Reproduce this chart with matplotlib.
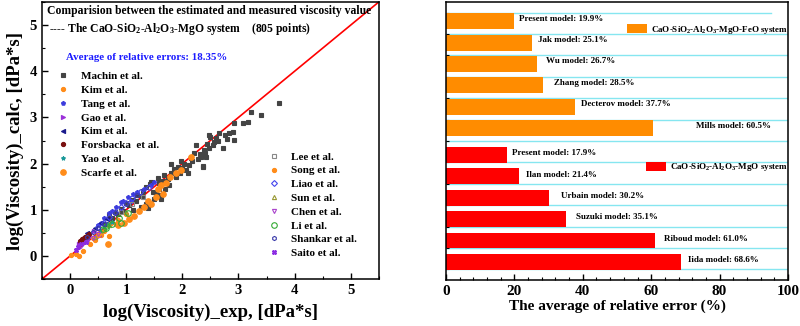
import matplotlib
matplotlib.use("Agg")
import matplotlib.pyplot as plt
import numpy as np

plt.rcParams['font.family'] = ['Liberation Serif', 'DejaVu Serif']
plt.rcParams['font.weight'] = 'bold'
plt.rcParams['mathtext.fontset'] = 'custom'
plt.rcParams['mathtext.rm'] = 'Liberation Serif:bold'
plt.rcParams['mathtext.it'] = 'Liberation Serif:bold'
plt.rcParams['mathtext.bf'] = 'Liberation Serif:bold'

# ---- left panel data: log(viscosity) exp vs calc ----
machin_x = [0.62, 0.75, 0.85, 0.95, 1.05, 1.12, 1.17, 1.26, 1.35, 1.39, 1.5, 1.53, 1.59,
            1.62, 1.62, 1.56, 1.67, 1.76, 1.8, 1.8, 1.92, 2.03, 2.06, 2.1, 2.15, 2.2, 2.33,
            2.36, 2.37, 2.38, 2.4, 2.42, 2.47, 2.48, 2.5, 2.54, 2.6, 2.66, 2.72, 2.8, 2.83,
            2.9, 2.92, 2.92, 3.08, 3.17, 3.22, 3.4, 3.72, 1.45, 1.7, 1.98, 2.25,
            0.7, 0.8, 0.9, 1.0, 1.1, 1.2, 1.3, 1.42, 1.48, 1.58, 1.66, 1.74, 1.85, 1.88,
            1.95, 2.0, 2.12, 2.18, 2.28, 2.32, 2.44, 2.56, 2.63, 2.76, 1.36, 1.28]
machin_y = [0.7, 0.82, 0.9, 0.98, 1.1, 1.0, 1.2, 1.05, 1.49, 1.03, 1.24, 1.35, 1.57,
            1.24, 1.31, 1.68, 1.75, 1.53, 2.0, 1.79, 1.92, 2.0, 1.86, 1.79, 2.12, 2.22, 2.14,
            1.92, 1.94, 2.29, 2.23, 2.14, 2.62, 2.34, 2.58, 2.4, 2.55, 2.66, 2.34, 2.53, 2.66,
            2.69, 2.88, 2.51, 2.88, 2.9, 3.12, 3.06, 3.32, 1.6, 1.45, 2.05, 2.4,
            0.88, 0.95, 1.02, 1.15, 1.22, 1.32, 1.4, 1.55, 1.38, 1.46, 1.62, 1.66, 1.88, 1.7,
            1.8, 1.9, 1.98, 2.05, 2.1, 2.2, 2.42, 2.46, 2.5, 2.62, 1.12, 1.3]
kim_x = [0.02, 0.1, 0.16, 0.23, 0.35, 0.45, 0.55, 0.69, 0.73, 0.82]
kim_y = [0.02, 0.05, 0.0, 0.11, 0.25, 0.35, 0.45, 0.44, 0.72, 0.7]
tang_x = [0.6, 0.69, 0.82, 0.91, 1.03, 1.12, 1.32, 1.44, 0.75, 0.95, 1.2, 0.5, 0.55, 1.08, 1.5]
tang_y = [0.83, 0.94, 1.05, 1.16, 1.27, 1.35, 1.46, 1.53, 0.98, 1.2, 1.38, 0.66, 0.72, 1.18, 1.6]
gao_x = [0.16, 0.25, 0.43, 0.52, 0.35]
gao_y = [0.26, 0.28, 0.55, 0.44, 0.42]
kim2_x = [0.3, 0.45, 0.55, 0.65]
kim2_y = [0.5, 0.6, 0.72, 0.8]
forsbacka_x = [0.18, 0.21, 0.24, 0.27, 0.3, 0.33]
forsbacka_y = [0.33, 0.36, 0.38, 0.41, 0.44, 0.47]
yao_x = [0.55, 0.6, 0.68, 0.75]
yao_y = [0.55, 0.6, 0.7, 0.74]
scarfe_x = [0.96, 1.05, 1.14, 1.23, 1.32, 1.44, 1.53, 1.65, 1.56, 1.62, 1.71, 1.89, 1.98, 2.15, 0.68,
            0.85, 1.38, 1.78]
scarfe_y = [0.72, 0.8, 0.87, 0.98, 1.05, 1.13, 1.27, 1.35, 1.46, 1.53, 1.59, 1.79, 1.86, 2.14, 0.25,
            0.68, 1.2, 1.7]
lee_x = [0.9, 1.1, 1.3]
lee_y = [0.95, 1.12, 1.28]
song_x = [0.4, 0.5, 0.6, 0.85, 1.0]
song_y = [0.38, 0.46, 0.55, 0.78, 0.9]
liao_x = [0.5, 0.6, 0.7, 0.8, 0.9, 1.0, 1.1, 1.25, 1.4]
liao_y = [0.62, 0.72, 0.85, 0.95, 1.05, 1.15, 1.25, 1.38, 1.5]
sun_x = [0.45, 0.7, 1.0]
sun_y = [0.42, 0.66, 0.95]
chen_x = [0.2, 0.3, 0.4, 0.5]
chen_y = [0.22, 0.3, 0.38, 0.48]
li_x = [0.59, 0.64, 0.64, 0.87, 0.9, 1.03, 0.75]
li_y = [0.59, 0.65, 0.61, 0.83, 0.72, 0.92, 0.7]
shankar_x = [0.3, 0.4, 0.5, 0.6, 0.8, 1.0, 1.2]
shankar_y = [0.4, 0.52, 0.6, 0.7, 0.92, 1.12, 1.32]
saito_x = [0.1, 0.15, 0.2, 0.28]
saito_y = [0.12, 0.2, 0.25, 0.3]

# ---- right panel data: average relative error (%) ----
mgo_models = ['Iida model', 'Riboud model', 'Suzuki model', 'Urbain model', 'Ilan model', 'Present model']
mgo_errors = [68.6, 61.0, 35.1, 30.2, 21.4, 17.9]
feo_models = ['Mills model', 'Decterov model', 'Zhang model', 'Wu model', 'Jak model', 'Present model']
feo_errors = [60.5, 37.7, 28.5, 26.7, 25.1, 19.9]

fig = plt.figure(figsize=(8, 3.26), dpi=100)
ax1 = fig.add_axes([0.0525, 0.144, 0.421, 0.850])
ax2 = fig.add_axes([0.5575, 0.141, 0.4275, 0.853])

ax1.plot([-0.5, 5.5], [-0.5, 5.5], color='red', lw=1.2, zorder=1)

ms = 3.0
series1 = [
    (machin_x, machin_y, 'Machin et al.', dict(marker='s', color='#444444')),
    (kim_x, kim_y, 'Kim et al.', dict(marker='o', color='#ff8c1a')),
    (tang_x, tang_y, 'Tang et al.', dict(marker='p', color='#3b3bdd')),
    (gao_x, gao_y, 'Gao et al.', dict(marker='>', color='#9b30d9')),
    (kim2_x, kim2_y, 'Kim et al.', dict(marker='<', color='#1a1a8c')),
    (forsbacka_x, forsbacka_y, 'Forsbacka  et al.', dict(marker='o', color='#7a1010')),
    (yao_x, yao_y, 'Yao et al.', dict(marker='*', color='#1a9999')),
    (scarfe_x, scarfe_y, 'Scarfe et al.', dict(marker='o', color='#ff8c1a', ms=4.0)),
]
series2 = [
    (lee_x, lee_y, 'Lee et al.', dict(marker='s', color='#888888', mfc='none')),
    (song_x, song_y, 'Song et al.', dict(marker='o', color='#ff8c1a')),
    (liao_x, liao_y, 'Liao et al.', dict(marker='D', color='#4444ee', mfc='none', ms=3)),
    (sun_x, sun_y, 'Sun et al.', dict(marker='^', color='#999933', mfc='none')),
    (chen_x, chen_y, 'Chen et al.', dict(marker='v', color='#aa44cc', mfc='none')),
    (li_x, li_y, 'Li et al.', dict(marker='o', color='#33aa33', mfc='none', ms=4)),
    (shankar_x, shankar_y, 'Shankar et al.', dict(marker='h', color='#3a3aaa', mfc='none')),
    (saito_x, saito_y, 'Saito et al.', dict(marker='X', color='#8a2be2')),
]

handles1, handles2 = [], []
for xs, ys, lab, st in series1:
    st = dict(st)
    st.setdefault('ms', ms)
    h, = ax1.plot(xs, ys, ls='none', mew=0.8, label=lab, zorder=2, **st)
    handles1.append(h)
for xs, ys, lab, st in series2:
    st = dict(st)
    st.setdefault('ms', ms)
    h, = ax1.plot(xs, ys, ls='none', mew=0.8, label=lab, zorder=2, **st)
    handles2.append(h)

leg1 = ax1.legend(handles=handles1, loc='upper left', bbox_to_anchor=(0.03, 0.765),
                  frameon=False, fontsize=8, handlelength=1.2, handletextpad=1.0,
                  labelspacing=0.36, borderaxespad=0)
ax1.add_artist(leg1)
ax1.legend(handles=handles2, loc='upper left', bbox_to_anchor=(0.655, 0.475),
           frameon=False, fontsize=8, handlelength=1.2, handletextpad=1.0,
           labelspacing=0.36, borderaxespad=0)

ax1.text(0.015, 0.955, 'Comparision between the estimated and measured viscosity value',
         transform=ax1.transAxes, fontsize=8.4, fontweight='bold')
ax1.text(0.02, 0.89, '---- The CaO-SiO$_2$-Al$_2$O$_3$-MgO system    (805 points)',
         transform=ax1.transAxes, fontsize=8.4, fontweight='bold')
ax1.text(0.07, 0.79, 'Average of relative errors: 18.35%', transform=ax1.transAxes,
         fontsize=7.8, fontweight='bold', color='#1a1aff')

ax1.set_xlim(-0.5, 5.5)
ax1.set_ylim(-0.5, 5.5)
ax1.set_xticks(range(6))
ax1.set_yticks(range(6))
ax1.set_xticks(np.arange(-0.5, 5.6, 0.5), minor=True)
ax1.set_yticks(np.arange(-0.5, 5.6, 0.5), minor=True)
ax1.tick_params(which='both', direction='in', labelsize=10.5)
ax1.tick_params(which='major', length=4, width=1)
ax1.tick_params(which='minor', length=2, width=0.8)
ax1.set_xlabel('log(Viscosity)_exp, [dPa*s]', fontsize=13.5, fontweight='bold', labelpad=5)
ax1.set_ylabel('log(Viscosity)_calc, [dPa*s]', fontsize=13.5, fontweight='bold', labelpad=4)
for sp in ax1.spines.values():
    sp.set_linewidth(1.1)

# ---- right panel ----
red_pos = 0.85 + np.arange(len(mgo_errors))
orange_pos = 7.1 + np.arange(len(feo_errors))
grid_c = '#86e6f0'
for yy in np.arange(0.5, 12.5, 1.0):
    ax2.axhline(yy, color=grid_c, lw=1, zorder=0)
ax2.plot([0, 95], [12.5, 12.5], color=grid_c, lw=1, zorder=0)

b_red = ax2.barh(red_pos, mgo_errors, height=0.74, color='#ff0000', zorder=2,
                 label='CaO-SiO$_2$-Al$_2$O$_3$-MgO system')
b_or = ax2.barh(orange_pos, feo_errors, height=0.74, color='#ff8c00', zorder=2,
                label='CaO-SiO$_2$-Al$_2$O$_3$-MgO-FeO system')

red_offsets = [2.2, 2.7, 2.9, 3.4, 2.0, 1.4]
orange_offsets = [12.6, 1.8, 3.1, 2.5, 1.8, 1.4]
for p, v, m, off in zip(red_pos, mgo_errors, mgo_models, red_offsets):
    ax2.text(v + off, p + 0.08, f'{m}: {v:.1f}%', fontsize=6.5, fontweight='bold',
             va='center', ha='left', zorder=3)
for p, v, m, off in zip(orange_pos, feo_errors, feo_models, orange_offsets):
    ax2.text(v + off, p + 0.12, f'{m}: {v:.1f}%', fontsize=6.5, fontweight='bold',
             va='center', ha='left', zorder=3)

lg_or = ax2.legend(handles=[b_or], loc='center left', bbox_to_anchor=(0.52, 0.9),
                   frameon=False, fontsize=6.5, handlelength=2.2, handleheight=1.2,
                   handletextpad=0.4, borderaxespad=0)
ax2.add_artist(lg_or)
ax2.legend(handles=[b_red], loc='center left', bbox_to_anchor=(0.575, 0.405),
           frameon=False, fontsize=6.5, handlelength=2.2, handleheight=1.2,
           handletextpad=0.4, borderaxespad=0)

ax2.set_xlim(0, 100)
ax2.set_ylim(0, 13)
ax2.set_xticks(range(0, 101, 20))
ax2.set_xticks(range(0, 101, 4), minor=True)
ax2.set_yticks(range(1, 13))
ax2.set_yticks(np.arange(0.5, 13, 1.0), minor=True)
ax2.set_yticklabels([])
ax2.tick_params(which='both', direction='in', labelsize=11)
ax2.tick_params(which='major', length=4, width=1)
ax2.tick_params(which='minor', length=2, width=0.8)
ax2.set_xlabel('The average of relative error (%)', fontsize=11, fontweight='bold', labelpad=1)
for sp in ax2.spines.values():
    sp.set_linewidth(1.1)

fig.savefig('out.png', dpi=100)
